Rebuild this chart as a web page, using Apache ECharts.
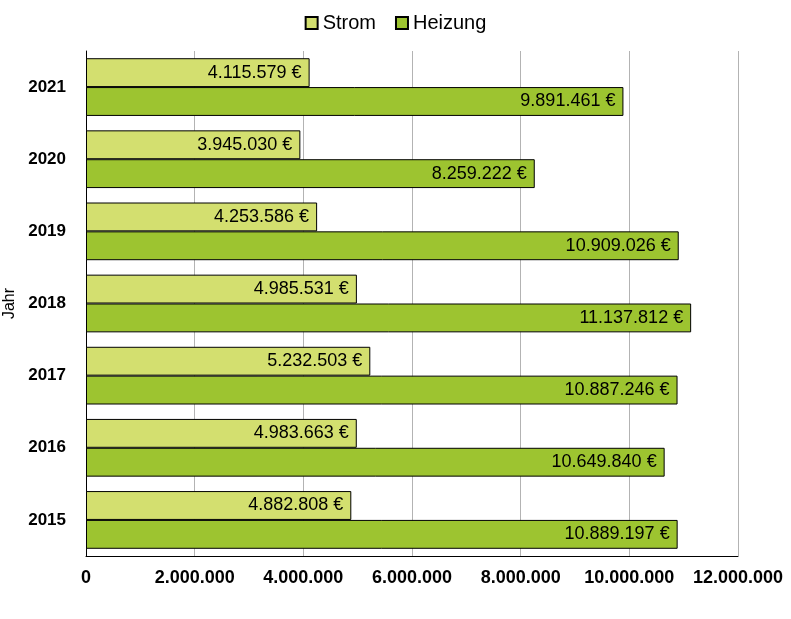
<!DOCTYPE html>
<html>
<head>
<meta charset="utf-8">
<script src="https://cdn.jsdelivr.net/npm/echarts@6/dist/echarts.min.js"></script>
<style>html,body{margin:0;padding:0;background:#fff}#c{width:791px;height:619px}</style>
</head>
<body>
<div id="c"></div>
<script>
const years = ['2015','2016','2017','2018','2019','2020','2021'];
const strom = [4882808, 4983663, 5232503, 4985531, 4253586, 3945030, 4115579];
const heizung = [10889197, 10649840, 10887246, 11137812, 10909026, 8259222, 9891461];
const xTicks = [0, 2000000, 4000000, 6000000, 8000000, 10000000, 12000000];

function de(n){ return String(Math.round(n)).replace(/\B(?=(\d{3})+(?!\d))/g, '.'); }
const FONT = '"Liberation Sans", Arial, sans-serif';

const chart = echarts.init(document.getElementById('c'), null, {renderer:'canvas'});
const labelCfg = {
  show: true, position: 'insideRight', distance: 8, color: '#000',
  fontFamily: FONT, fontSize: 18,
  formatter: p => de(p.value) + ' €'
};
chart.setOption({
  animation: false,
  textStyle: {fontFamily: FONT},
  legend: {
    data: ['Strom', 'Heizung'], top: 8, left: 'center',
    itemWidth: 12, itemHeight: 12, itemGap: 19,
    icon: 'rect',
    textStyle: {fontFamily: FONT, fontSize: 20, color: '#000', padding: [0,0,0,0]}
  },
  grid: {left: 86, right: 53, top: 51, bottom: 63, containLabel: false, outerBoundsMode: 'none'},
  xAxis: {
    type: 'value', min: xTicks[0], max: xTicks[xTicks.length-1], interval: xTicks[1]-xTicks[0],
    axisLine: {show: true, lineStyle: {color: '#000', width: 1}},
    axisTick: {show: false},
    splitLine: {show: true, lineStyle: {color: '#b3b3b3', width: 1}},
    axisLabel: {color: '#000', fontWeight: 'bold', fontFamily: FONT, fontSize: 18, margin: 13,
      formatter: v => de(v)}
  },
  yAxis: {
    type: 'category', data: years,
    name: 'Jahr', nameLocation: 'middle', nameGap: 62, nameRotate: 90,
    nameTextStyle: {color: '#000', fontFamily: FONT, fontSize: 16},
    axisLine: {show: true, lineStyle: {color: '#000', width: 1}},
    axisTick: {show: false},
    axisLabel: {color: '#000', fontWeight: 'bold', fontFamily: FONT, fontSize: 17, margin: 20}
  },
  series: [
    {name: 'Strom', type: 'bar', data: strom, barGap: '0%', barCategoryGap: '20%',
     itemStyle: {color: '#d3df6f', borderColor: '#000', borderWidth: 1}, label: labelCfg},
    {name: 'Heizung', type: 'bar', data: heizung, barGap: '0%', barCategoryGap: '20%',
     itemStyle: {color: '#9dc430', borderColor: '#000', borderWidth: 1}, label: labelCfg}
  ]
});
</script>
</body>
</html>
